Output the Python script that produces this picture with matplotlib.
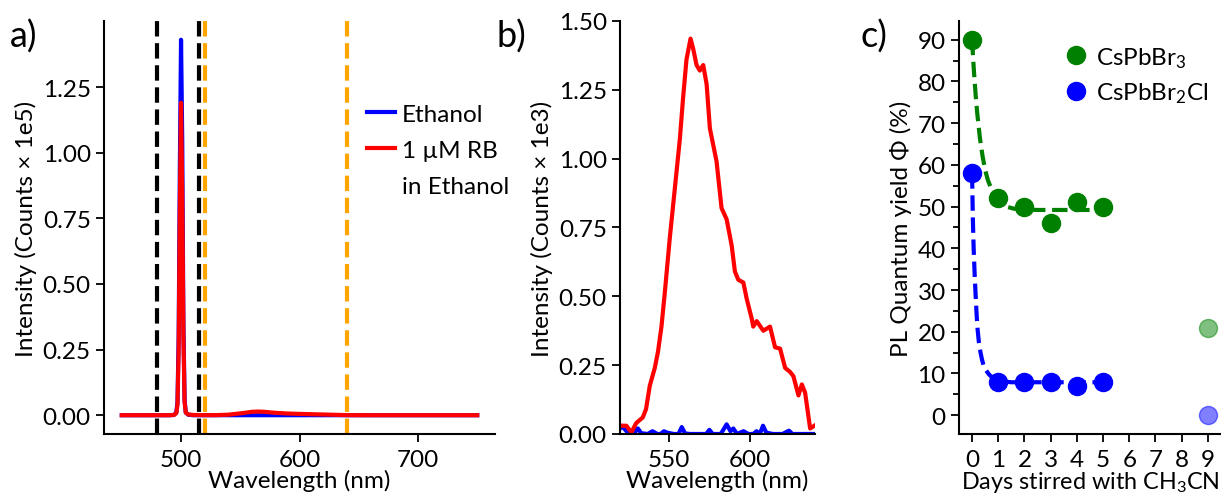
import matplotlib
matplotlib.use("Agg")
import matplotlib.pyplot as plt
from matplotlib.ticker import MultipleLocator

plt.rcParams['font.family'] = ['Lato', 'DejaVu Sans']
plt.rcParams['mathtext.fontset'] = 'custom'
plt.rcParams['mathtext.rm'] = 'Lato'
plt.rcParams['mathtext.it'] = 'Lato:italic'
plt.rcParams['font.size'] = 17.5
plt.rcParams['axes.linewidth'] = 1.5
plt.rcParams['xtick.major.width'] = 1.3
plt.rcParams['ytick.major.width'] = 1.3
plt.rcParams['xtick.major.size'] = 6
plt.rcParams['ytick.major.size'] = 6
plt.rcParams['xtick.major.pad'] = 5

# a) full spectra (Counts x 1e5)
a_wl = [450, 480, 490, 494, 496, 497, 498, 499, 500, 501, 502, 503, 504, 506, 510,
        520, 530, 540, 550, 560, 565, 570, 580, 590, 600, 610, 620, 640, 660, 700, 750]
a_ethanol = [0, 0, 0, 0.001, 0.01, 0.05, 0.3, 0.95, 1.43, 1.05, 0.35, 0.06, 0.01, 0.002, 0,
             0, 0, 0, 0, 0, 0, 0, 0, 0, 0, 0, 0, 0, 0, 0, 0]
a_rb = [0, 0, 0, 0.001, 0.008, 0.04, 0.25, 0.8, 1.19, 0.85, 0.3, 0.05, 0.01, 0.003, 0.001,
        0.0003, 0.0004, 0.002, 0.007, 0.013, 0.014, 0.013, 0.009, 0.0065, 0.005, 0.0038,
        0.0028, 0.0003, 0, 0, 0]
laser_lines = [480, 515]
window_lines = [520, 640]

# b) zoom on the emission window (Counts x 1e3)
b_wl = [520.8, 523.9, 527, 530, 534, 536, 538.3, 541.4, 543.4, 545.5, 547.5, 550.6, 553.7,
        556.8, 558.8, 560.9, 563.4, 565, 567.1, 569.1, 571.2, 573.3, 575.3, 579.4, 582.5,
        585.6, 588.7, 590.7, 592.8, 595.9, 598, 601, 602, 604.1, 608.2, 612.3, 615.4, 618.5,
        621.6, 624.7, 626.7, 629.8, 631.9, 633.9, 637, 639.6]
b_rb = [0.03, 0.03, 0.006, 0.04, 0.06, 0.09, 0.175, 0.24, 0.30, 0.39, 0.51, 0.71, 0.89,
        1.07, 1.22, 1.36, 1.436, 1.40, 1.34, 1.32, 1.34, 1.27, 1.11, 0.99, 0.82,
        0.78, 0.685, 0.59, 0.56, 0.55, 0.49, 0.42, 0.39, 0.41, 0.375, 0.39, 0.315, 0.31,
        0.24, 0.225, 0.21, 0.14, 0.18, 0.15, 0.02, 0.03]
b_blue_wl = [520, 521, 524, 527, 529, 531, 533, 537, 540, 543, 545, 547, 549, 553, 556, 558,
             560, 563, 568, 573, 575, 577, 582, 585.6, 588, 589.7, 592, 596, 599, 602, 604,
             606, 608, 610, 614, 620, 624, 626, 630, 636, 640]
b_blue = [0.02, 0.03, 0.01, 0.0, 0.005, 0.02, 0.003, 0.0, 0.01, 0.0, 0.0, 0.01, 0.005, 0.0,
          0.0, 0.025, 0.002, 0.0, 0.0, 0.0, 0.015, 0.0, 0.0, 0.035, 0.01, 0.02, 0.0, 0.01, 0.0,
          0.0, 0.01, 0.0, 0.03, 0.005, 0.0, 0.0, 0.012, 0.0, 0.0, 0.0, 0.0]

# c) quantum yield vs. days stirred
days = [0, 1, 2, 3, 4, 5]
qy_br3 = [90, 52, 50, 46, 51, 50]
qy_br2cl = [58, 8, 8, 8, 7, 8]
late_day = [9]
late_br3 = [21]
late_br2cl = [0]
fit_x_br3 = [0, 0.05, 0.1, 0.15, 0.2, 0.3, 0.4, 0.5, 0.6, 0.8, 1.0, 1.3, 1.6, 2, 2.5, 3, 4, 5]
fit_br3 = [90, 84.5, 79.8, 75.7, 72.2, 66.4, 62.1, 58.8, 56.4, 53.2, 51.4, 50.0, 49.5, 49.3,
           49.2, 49.2, 49.2, 49.2]
fit_x_br2cl = [0, 0.03, 0.06, 0.1, 0.13, 0.17, 0.21, 0.26, 0.32, 0.38, 0.44, 0.53, 0.63, 0.8,
               1.0, 1.5, 2, 3, 4, 5]
fit_br2cl = [58, 47, 40, 33.5, 29.5, 24.5, 20.6, 17.5, 15.1, 13.3, 11.9, 10.8, 9.9, 8.8,
             8.2, 7.9, 7.9, 7.9, 7.9, 7.9]

fig = plt.figure(figsize=(12.21, 5.02), dpi=100)
ax1 = fig.add_axes([0.0852, 0.1335, 0.3202, 0.8227])
ax2 = fig.add_axes([0.5078, 0.1335, 0.1597, 0.8227])
ax3 = fig.add_axes([0.7854, 0.1335, 0.2146, 0.8227])

for ax in (ax1, ax2, ax3):
    ax.spines['top'].set_visible(False)
    ax.spines['right'].set_visible(False)

# panel a
for x in laser_lines:
    ax1.axvline(x, color='black', ls='--', lw=3)
for x in window_lines:
    ax1.axvline(x, color='orange', ls='--', lw=3)
ax1.plot(a_wl, a_ethanol, color='blue', lw=3, label='Ethanol')
ax1.plot(a_wl, a_rb, color='red', lw=3, label='1 µM RB')
ax1.plot([], [], color='none', label='in Ethanol')  # second line of the RB label
ax1.set_xticks([500, 600, 700])
ax1.set_yticks([0, 0.25, 0.5, 0.75, 1.0, 1.25])
ax1.yaxis.set_major_formatter(lambda v, p: f'{v:.2f}')
ax1.set_xlabel('Wavelength (nm)', labelpad=-1)
ax1.set_ylabel('Intensity (Counts × 1e5)')
ax1.legend(loc='upper left', bbox_to_anchor=(0.616, 0.853), frameon=False,
           handlelength=1.15, handletextpad=0.3, labelspacing=0.62)

# panel b
ax2.plot(b_blue_wl, b_blue, color='blue', lw=3)
ax2.plot(b_wl, b_rb, color='red', lw=3)
ax2.set_xlim(520, 640)
ax2.set_ylim(0, 1.5)
ax2.set_xticks([550, 600])
ax2.set_yticks([0, 0.25, 0.5, 0.75, 1.0, 1.25, 1.5])
ax2.yaxis.set_major_formatter(lambda v, p: f'{v:.2f}')
ax2.set_xlabel('Wavelength (nm)', labelpad=-1)
ax2.set_ylabel('Intensity (Counts × 1e3)')

# panel c
ax3.plot(fit_x_br3, fit_br3, color='green', ls='--', lw=3)
ax3.plot(fit_x_br2cl, fit_br2cl, color='blue', ls='--', lw=3)
ax3.plot(days, qy_br3, 'o', color='green', ms=13, label='CsPbBr$_3$')
ax3.plot(days, qy_br2cl, 'o', color='blue', ms=13, label='CsPbBr$_2$Cl')
ax3.plot(late_day, late_br3, 'o', color='green', ms=13, alpha=0.5)
ax3.plot(late_day, late_br2cl, 'o', color='blue', ms=13, alpha=0.5)
ax3.set_xlim(-0.5, 9.5)
ax3.set_ylim(-4.5, 94.5)
ax3.set_xticks(range(10))
ax3.set_yticks(range(0, 91, 10))
ax3.yaxis.set_minor_locator(MultipleLocator(5))
ax3.tick_params(axis='y', which='minor', length=4, width=1.3)
ax3.set_xlabel('Days stirred with CH$_3$CN', labelpad=-1, fontsize=16.8)
ax3.set_ylabel('PL Quantum yield Φ (%)')
ax3.legend(loc='upper left', bbox_to_anchor=(0.316, 0.995), frameon=False,
           handlelength=1.0, handletextpad=0.35, labelspacing=0.45)

fig.text(0.008, 0.905, 'a)', fontsize=26)
fig.text(0.407, 0.905, 'b)', fontsize=26)
fig.text(0.705, 0.905, 'c)', fontsize=26)

fig.savefig('out.png', dpi=100)
